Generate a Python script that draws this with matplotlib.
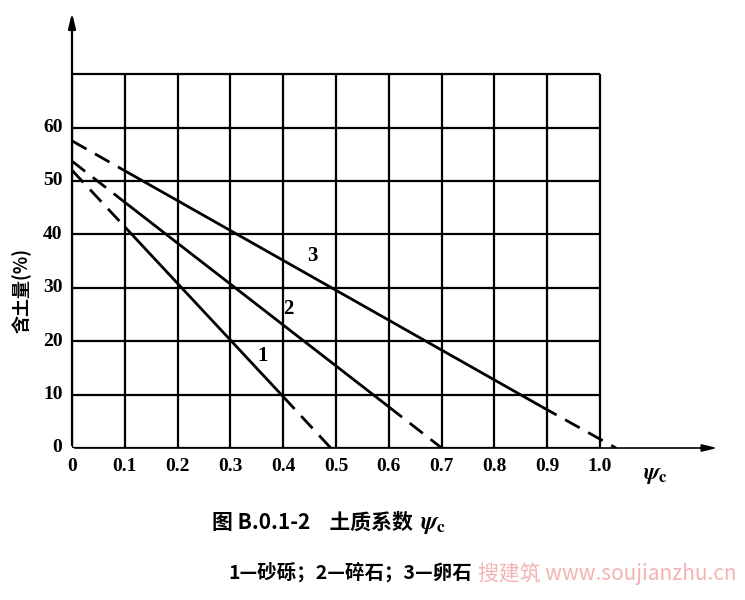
import matplotlib
matplotlib.use("Agg")
import matplotlib.pyplot as plt

plt.rcParams["mathtext.fontset"] = "stix"

# Data
x_ticks = [0, 0.1, 0.2, 0.3, 0.4, 0.5, 0.6, 0.7, 0.8, 0.9, 1.0]
x_ticklabels = ["0", "0.1", "0.2", "0.3", "0.4", "0.5", "0.6", "0.7", "0.8", "0.9", "1.0"]
y_ticks = [0, 10, 20, 30, 40, 50, 60]
y_ticklabels = ["0", "10", "20", "30", "40", "50", "60"]
grid_top = 70
curve_labels = ["1", "2", "3"]
# each curve: dashed start, solid segment, dashed end
curve1_x = [0.0, 0.1, 0.4, 0.49]
curve1_y = [52.0, 41.4, 9.6, 0.0]
curve2_x = [0.0, 0.1, 0.6, 0.7]
curve2_y = [53.7, 46.0, 7.7, 0.0]
curve3_x = [0.0, 0.1, 0.89, 1.03]
curve3_y = [57.5, 51.9, 7.7, 0.0]
label_pos_x = [0.36, 0.41, 0.455]
label_pos_y = [17.2, 26.0, 36.0]

serif = ["Liberation Serif", "DejaVu Serif"]
cjk = ["Noto Sans CJK SC", "DejaVu Sans"]

fig = plt.figure(figsize=(7.45, 6.0), dpi=100)
ax = fig.add_axes([72/745, 1-448/600, (720-72)/745, (448-10)/600])
ax.set_xlim(0, 1.227)
ax.set_ylim(0, 82)
ax.axis("off")

lw = 1.6
# grid
for xv in x_ticks:
    ax.plot([xv, xv], [0, grid_top], color="black", lw=lw, solid_capstyle="butt")
for yv in list(range(0, grid_top + 1, 10)):
    ax.plot([0, 1.0], [yv, yv], color="black", lw=lw, solid_capstyle="butt")

# axes arrows
ax.annotate("", xy=(1.227, 0), xytext=(0, 0),
            arrowprops=dict(arrowstyle="-|>,head_length=0.9,head_width=0.22", color="black", lw=1.2))
ax.annotate("", xy=(0, 82), xytext=(0, 0),
            arrowprops=dict(arrowstyle="-|>,head_length=0.9,head_width=0.22", color="black", lw=1.6))

# curves
for cx, cy in [(curve1_x, curve1_y), (curve2_x, curve2_y), (curve3_x, curve3_y)]:
    ax.plot(cx[0:2], cy[0:2], color="black", lw=2.0, dashes=(6, 3.5))
    ax.plot(cx[1:3], cy[1:3], color="black", lw=2.0, solid_capstyle="butt")
    ax.plot(cx[2:4], cy[2:4], color="black", lw=2.0, dashes=(6, 3.5))

for lab, lx, ly in zip(curve_labels, label_pos_x, label_pos_y):
    ax.text(lx, ly, lab, fontsize=15, family=serif, fontweight="bold", ha="center", va="center")

# tick labels
for yv, yl in zip(y_ticks, y_ticklabels):
    ax.text(-0.018, yv, yl, fontsize=14, family=serif, fontweight="bold", ha="right", va="center")
for xv, xl in zip(x_ticks, x_ticklabels):
    ax.text(xv, -3.4, xl, fontsize=14, family=serif, fontweight="bold", ha="center", va="center")

ax.text(1.105, -4.8, r"$\boldsymbol{\psi}_{\mathbf{c}}$", fontsize=17, ha="center", va="center")

fig.text(22/745, 1-290/600, "含土量(%)", rotation=90, fontsize=13, family=cjk,
         fontweight="bold", ha="center", va="center")

fig.text(418/745, 1-522/600, "图 B.0.1-2    土质系数 ", fontsize=15, family=cjk,
         fontweight="bold", ha="right", va="center")
fig.text(420/745, 1-524/600, r"$\boldsymbol{\psi}_{\mathbf{c}}$", fontsize=18, ha="left", va="center")
fig.text(228/745, 1-572/600, "1—砂砾；2—碎石；3—卵石", fontsize=14, family=cjk,
         fontweight="bold", ha="left", va="center")
fig.text(478/745, 1-574/600, "搜建筑 www.soujianzhu.cn", fontsize=15, family=cjk,
         color="#f0a0a0", alpha=0.8, ha="left", va="center")

fig.savefig("out.png", dpi=100)
